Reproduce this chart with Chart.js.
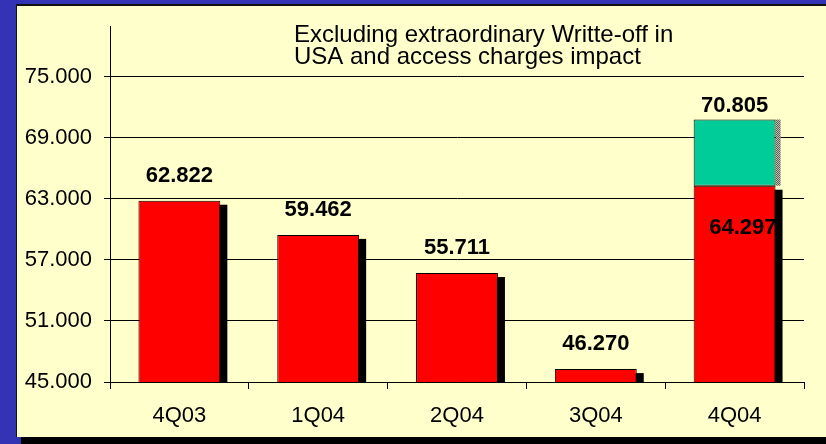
<!DOCTYPE html>
<html>
<head>
<meta charset="utf-8">
<script src="https://cdn.jsdelivr.net/npm/chart.js@4.4.1/dist/chart.umd.min.js"></script>
<style>
  html, body { margin: 0; padding: 0; overflow: hidden; background: #ffffcc; }
  canvas { display: block; }
</style>
</head>
<body>
<canvas id="resultChart" width="826" height="444"></canvas>
<script>
// quarterly results
const quarters = ['4Q03', '1Q04', '2Q04', '3Q04', '4Q04'];
const reported = [62.822, 59.462, 55.711, 46.270, 64.297];
// 4Q04 without the extraordinary write-off in USA and access charges impact
const excludingWriteOff = [null, null, null, null, 70.805];
const yTicks = [45, 51, 57, 63, 69, 75];
const noteLines = ['Excluding extraordinary Writte-off in', 'USA and access charges impact'];

const FONT = '"Liberation Sans", Arial, sans-serif';

// grey dotted texture for the shadow of the green block
const stipple = document.createElement('canvas');
stipple.width = 2; stipple.height = 2;
const sctx = stipple.getContext('2d');
sctx.fillStyle = '#c4c4b0'; sctx.fillRect(0, 0, 2, 2);
sctx.fillStyle = '#5a5a5a'; sctx.fillRect(0, 0, 1, 1); sctx.fillRect(1, 1, 1, 1);

// blue slide background with the cream panel and its drop shadow
const slidePanel = {
    id: 'slidePanel',
    beforeDraw(chart) {
        const { ctx, width, height } = chart;
        ctx.save();
        ctx.fillStyle = '#3333b5';
        ctx.fillRect(0, 0, width, height);
        ctx.fillStyle = '#000';
        ctx.fillRect(21, 11, width, height);
        ctx.fillStyle = '#111';
        ctx.fillRect(16, 4, width, height - 11);
        ctx.fillStyle = '#ffffcc';
        ctx.fillRect(17, 6, width, height - 13);
        ctx.restore();
    }
};

// drop shadows behind the bars
const barShadow = {
    id: 'barShadow',
    beforeDatasetsDraw(chart) {
        const { ctx, chartArea } = chart;
        ctx.save();
        ctx.beginPath();
        ctx.rect(chartArea.left, chartArea.top, chartArea.right - chartArea.left, chartArea.bottom - chartArea.top);
        ctx.clip();
        ctx.fillStyle = '#000';
        chart.getDatasetMeta(0).data.forEach(bar => {
            const { x, y, width, base } = bar.getProps(['x', 'y', 'width', 'base'], true);
            ctx.fillRect(x - width / 2 + 7, y + 4, width, Math.max(base, chartArea.bottom) - y);
        });
        ctx.fillStyle = ctx.createPattern(stipple, 'repeat');
        chart.getDatasetMeta(1).data.forEach((bar, i) => {
            if (excludingWriteOff[i] == null) return;
            const { x, y, width, base } = bar.getProps(['x', 'y', 'width', 'base'], true);
            ctx.fillRect(x + width / 2, y, 5, base - y);
        });
        ctx.restore();
    }
};

// value labels and the note text
const valueLabels = {
    id: 'valueLabels',
    afterDatasetsDraw(chart) {
        const { ctx, chartArea } = chart;
        ctx.save();
        ctx.fillStyle = '#000';
        ctx.textBaseline = 'alphabetic';
        ctx.font = 'bold 22px ' + FONT;
        chart.getDatasetMeta(0).data.forEach((bar, i) => {
            const { x, y, width } = bar.getProps(['x', 'y', 'width'], true);
            const txt = reported[i].toFixed(3);
            if (excludingWriteOff[i] != null) {
                ctx.textAlign = 'right';
                ctx.fillText(txt, x + width / 2 + 1, y + 48);
            } else {
                ctx.textAlign = 'center';
                ctx.fillText(txt, x, y - 19);
            }
        });
        chart.getDatasetMeta(1).data.forEach((bar, i) => {
            if (excludingWriteOff[i] == null) return;
            const { x, y } = bar.getProps(['x', 'y'], true);
            ctx.textAlign = 'center';
            ctx.fillText(excludingWriteOff[i].toFixed(3), x, y - 8);
        });

        ctx.font = '24px ' + FONT;
        ctx.textAlign = 'left';
        noteLines.forEach((line, k) => {
            ctx.fillText(line, chartArea.left + 184, 42 + k * 21.5);
        });
        ctx.restore();
    }
};

new Chart(document.getElementById('resultChart'), {
    type: 'bar',
    data: {
        labels: quarters,
        datasets: [
            {
                data: reported,
                backgroundColor: '#ff0000',
                borderColor: '#000',
                borderWidth: 1,
                borderSkipped: false
            },
            {
                data: excludingWriteOff.map((v, i) => v == null ? null : [reported[i], v]),
                backgroundColor: '#00cc99',
                borderColor: '#000',
                borderWidth: 1,
                borderSkipped: false
            }
        ]
    },
    plugins: [slidePanel, barShadow, valueLabels],
    options: {
        responsive: false,
        animation: false,
        grouped: false,
        barPercentage: 0.59,
        categoryPercentage: 1,
        layout: { padding: { left: 16, right: 22, top: 26, bottom: 12 } },
        plugins: {
            legend: { display: false },
            tooltip: { enabled: false },
            title: { display: false }
        },
        scales: {
            x: {
                grid: {
                    drawOnChartArea: false,
                    color: '#000',
                    tickLength: 7,
                    offset: true
                },
                border: { color: '#000' },
                ticks: {
                    color: '#000',
                    font: { family: FONT, size: 22 },
                    padding: 14
                },
                afterFit(scale) { scale.height = 50; }
            },
            y: {
                min: 45,
                max: 80,
                grid: {
                    color: '#000',
                    tickLength: 6
                },
                border: { color: '#000' },
                ticks: {
                    color: '#000',
                    font: { family: FONT, size: 22 },
                    padding: 12,
                    callback: v => v.toFixed(3)
                },
                afterBuildTicks(scale) {
                    scale.ticks = yTicks.map(v => ({ value: v }));
                },
                afterFit(scale) { scale.width = 94; }
            }
        }
    }
});
</script>
</body>
</html>
